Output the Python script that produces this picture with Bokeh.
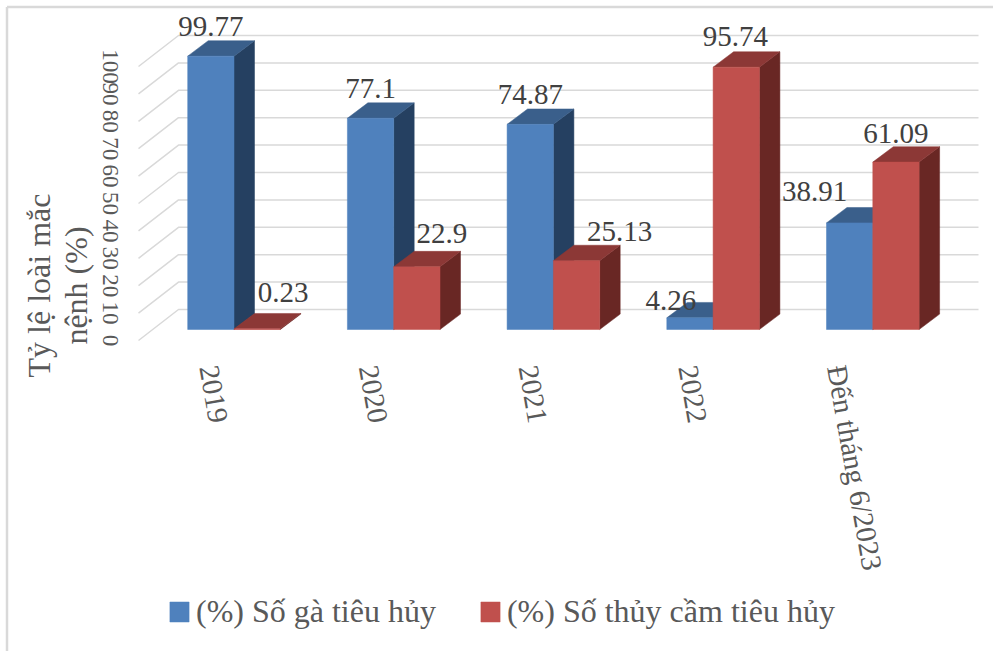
from math import pi, radians
from bokeh.plotting import figure
from bokeh.models import Range1d, LinearAxis, FixedTicker, Legend, LegendItem
from bokeh.core.properties import value
from bokeh.embed import file_html
from bokeh.resources import INLINE

categories = ["2019", "2020", "2021", "2022", "Đến tháng 6/2023"]
chicken = [99.77, 77.1, 74.87, 4.26, 38.91]
waterfowl = [0.23, 22.9, 25.13, 95.74, 61.09]
y_ticks = [0, 10, 20, 30, 40, 50, 60, 70, 80, 90, 100]
series_names = ["(%) Số gà tiêu hủy", "(%) Số thủy cầm tiêu hủy"]
y_title = ["Tỷ lệ loài mắc", "nệnh (%)"]

FONT = "Liberation Serif"
W, H = 993, 651
PX_X, PX_Y = 159.7, 2.74          # pixels per category / per percent
X0, Y0 = 233.5, 329               # first category centre, zero line in figure pixels
xr = Range1d(-X0 / PX_X, (W - X0) / PX_X)
yr = Range1d((Y0 - H) / PX_Y, Y0 / PX_Y)


def px_x(x):
    return (x - X0) / PX_X


def px_y(y):
    return (Y0 - y) / PX_Y


BAR = 46.3 / PX_X
DX, DY = 20.5 / PX_X, 15.4 / PX_Y
FLOOR_DROP = 11 / PX_Y
BACK_DX, BACK_DY = 40 / PX_X, 31 / PX_Y

p = figure(width=W, height=H, x_range=xr, y_range=yr, toolbar_location=None,
           output_backend="svg", min_border=0, border_fill_color="white",
           background_fill_color="white", outline_line_color=None)
p.xaxis.visible = False
p.yaxis.visible = False
p.grid.visible = False

# chart border, upper and left edges
p.segment([px_x(6.5), px_x(6.5)], [yr.start, px_y(6.5)], [px_x(6.5), xr.end], [px_y(6.5), px_y(6.5)],
          line_color="#D9D9D9", line_width=2.5)

# slanted wall + gridlines
GRID = "#D9D9D9"
gx0 = px_x(138)
gx1 = gx0 + BACK_DX
for t in y_ticks:
    y_front = t - FLOOR_DROP
    y_back = y_front + BACK_DY
    p.line([gx0, gx1, px_x(978)], [y_front, y_back, y_back], line_color=GRID, line_width=1.5)


def box(v, left, colors):
    r = left + BAR
    p.patch([r, r + DX, r + DX, r], [0, DY, v + DY, v], fill_color=colors[2], line_color=colors[2], line_width=0.5)
    p.patch([left, left + DX, r + DX, r], [v, v + DY, v + DY, v], fill_color=colors[1], line_color=colors[1], line_width=0.5)
    return p.quad(left=[left], right=[r], bottom=[0], top=[v], fill_color=colors[0], line_color=colors[0], line_width=0.5)


BLUE = ("#4F81BD", "#3A5F8B", "#254061")
RED = ("#C0504D", "#8C3836", "#692724")
rb = rr = None
for i in range(len(categories)):
    rb = box(chicken[i], i - BAR, BLUE)
    rr = box(waterfowl[i], i, RED)

# data labels: offsets of each label from its bar, as in the reference
blue_dx = [0, 0, 0, -19, -35]
blue_dy = [5, 5, 5, -8, 6]
red_dx = [26, 25, 43, -1, 0]
red_dy = [11, 8, 4, 6, 4]
for vals, off, dxs, dys in ((chicken, -BAR / 2, blue_dx, blue_dy), (waterfowl, BAR / 2, red_dx, red_dy)):
    p.text([i + off + dxs[i] / PX_X for i in range(5)],
           [vals[i] + DY + dys[i] / PX_Y for i in range(5)],
           text=[str(v) for v in vals], text_font=value(FONT), text_font_size="29px",
           text_color="#404040", text_align="center", text_baseline="bottom")

# value axis, rotated clockwise, running along the front edge of the wall
p.extra_y_ranges["wall"] = Range1d(yr.start + FLOOR_DROP, yr.end + FLOOR_DROP)
ya = LinearAxis(y_range_name="wall", fixed_location=px_x(91),
                ticker=FixedTicker(ticks=y_ticks), axis_line_color=None,
                major_tick_line_color=None, minor_tick_line_color=None,
                major_label_orientation="vertical", major_label_standoff=5,
                major_label_text_font=FONT, major_label_text_font_size="23px",
                major_label_text_color="#595959")
p.add_layout(ya, "right")

# category axes, rotated clockwise and slightly slanted; the long label sits on its own axis
for name, ticks, shift in (("cat_short", [0, 1, 2, 3], 25.5), ("cat_long", [4], 36)):
    p.extra_x_ranges[name] = Range1d(xr.start + shift / PX_X, xr.end + shift / PX_X)
    xa = LinearAxis(x_range_name=name, fixed_location=-16 / PX_Y,
                    ticker=FixedTicker(ticks=ticks),
                    major_label_overrides={i: categories[i] for i in ticks},
                    axis_line_color=None, major_tick_line_color=None, minor_tick_line_color=None,
                    major_label_orientation=-radians(80), major_label_standoff=14,
                    major_label_text_font=FONT, major_label_text_font_size="29px",
                    major_label_text_color="#595959")
    p.add_layout(xa, "below")

# axis title, two lines
for k, line in enumerate(y_title):
    p.text([px_x(38 + 37 * k)], [px_y(285)], text=[line], angle=pi / 2,
           text_font=value(FONT), text_font_size="32px", text_color="#595959",
           text_align="center", text_baseline="middle")

legend = Legend(items=[LegendItem(label=series_names[0], renderers=[rb]),
                       LegendItem(label=series_names[1], renderers=[rr])],
                orientation="horizontal", location=(167, 21), background_fill_alpha=0,
                border_line_color=None, glyph_width=24, glyph_height=25, spacing=42,
                label_standoff=5, padding=4, margin=0,
                label_text_font=FONT, label_text_font_size="32px", label_text_color="#595959")
p.add_layout(legend, "center")

open("out.html", "w").write(file_html(p, INLINE))
